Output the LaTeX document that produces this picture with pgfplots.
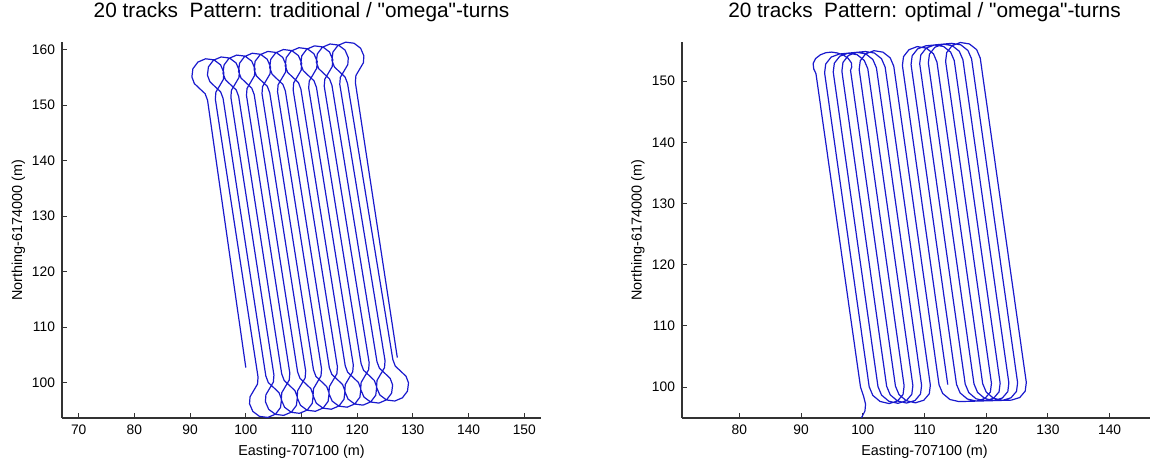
\documentclass[border=0pt]{standalone}
\usepackage{fontspec}
\setmainfont{Liberation Sans}
\newfontfamily\qfont{Liberation Sans}[Ligatures=TeXOff]
\usepackage{pgfplots}
\pgfplotsset{compat=1.18}
\definecolor{trk}{RGB}{25,25,205}
\newcommand{\dq}{{\qfont"}}
\pgfplotsset{
  trackax/.style={
    scale only axis, height=188pt,
    axis x line=bottom, axis y line=left,
    axis line style={-, line width=0.55pt, black!80},
    tick align=inside, major tick length=2.3pt,
    tick style={line width=0.5pt, black!80},
    /pgf/number format/assume math mode=true,
    ticklabel style={font=\fontsize{6.9}{8}\selectfont},
    label style={font=\fontsize{7.2}{8.5}\selectfont},
    title style={font=\fontsize{10.4}{12}\selectfont, at={(axis description cs:0.5,1)}, anchor=base, yshift=6pt},
    xlabel style={at={(axis description cs:0.5,-0.0904)}, anchor=center},
    ylabel style={at={(axis description cs:-0.0908,0.5)}, anchor=center},
  },
  trkline/.style={trk, line width=0.6pt, line join=round, mark=none},
}
\begin{document}
\begin{tikzpicture}
\useasboundingbox (0,0) rectangle (575pt,229.5pt);

% traditional pattern, omega turns at both ends
\begin{axis}[trackax, at={(31pt,20.5pt)}, anchor=south west, width=239.5pt,
  xmin=67, xmax=153, ymin=93.6, ymax=161.4,
  xtick={70,80,...,150}, ytick={100,110,...,160},
  title={20 tracks\ \ Pattern: traditional / \dq omega\dq-turns},
  xlabel={Easting-707100 (m)}, ylabel={Northing-6174000 (m)}]
\addplot[trkline] coordinates {
(100.00,102.70)
(93.13,150.90) (92.69,152.08) (91.72,152.99) (90.76,153.91) (90.32,155.09) (90.50,156.58) (91.40,157.78) (92.78,158.37) (94.28,158.18) (95.47,157.28) (96.06,155.90) (95.97,154.65) (95.30,153.50) (94.63,152.36) (94.53,151.10)
(102.20,100.97) (102.10,99.71) (101.43,98.57) (100.76,97.42) (100.67,96.17) (101.26,94.79) (102.46,93.89) (103.95,93.70) (105.33,94.29) (106.23,95.49) (106.41,96.98) (105.97,98.16) (105.01,99.08) (104.04,99.99) (103.60,101.17)
(95.92,151.23) (95.48,152.41) (94.51,153.32) (93.55,154.24) (93.11,155.42) (93.29,156.91) (94.19,158.11) (95.57,158.70) (97.07,158.51) (98.26,157.61) (98.85,156.23) (98.76,154.98) (98.09,153.83) (97.42,152.69) (97.32,151.43)
(105.05,101.34) (104.95,100.08) (104.28,98.94) (103.61,97.79) (103.52,96.54) (104.11,95.16) (105.31,94.26) (106.80,94.07) (108.18,94.66) (109.08,95.86) (109.26,97.35) (108.82,98.53) (107.86,99.45) (106.89,100.36) (106.45,101.54)
(98.72,151.57) (98.28,152.75) (97.31,153.66) (96.35,154.58) (95.91,155.76) (96.09,157.25) (96.99,158.45) (98.37,159.04) (99.87,158.85) (101.06,157.95) (101.65,156.57) (101.56,155.32) (100.89,154.17) (100.22,153.03) (100.12,151.77)
(107.90,101.71) (107.80,100.45) (107.13,99.31) (106.46,98.16) (106.37,96.91) (106.96,95.53) (108.16,94.63) (109.65,94.44) (111.03,95.03) (111.93,96.23) (112.11,97.72) (111.67,98.90) (110.71,99.82) (109.74,100.73) (109.30,101.91)
(101.51,151.90) (101.07,153.08) (100.10,153.99) (99.14,154.91) (98.70,156.09) (98.88,157.58) (99.78,158.78) (101.16,159.37) (102.66,159.18) (103.85,158.28) (104.44,156.90) (104.35,155.65) (103.68,154.50) (103.01,153.36) (102.91,152.10)
(110.75,102.08) (110.65,100.82) (109.98,99.68) (109.31,98.53) (109.22,97.28) (109.81,95.90) (111.01,95.00) (112.50,94.81) (113.88,95.40) (114.78,96.60) (114.96,98.09) (114.52,99.27) (113.56,100.19) (112.59,101.10) (112.15,102.28)
(104.30,152.23) (103.86,153.41) (102.89,154.32) (101.93,155.24) (101.49,156.42) (101.67,157.91) (102.57,159.11) (103.95,159.70) (105.45,159.51) (106.64,158.61) (107.23,157.23) (107.14,155.98) (106.47,154.83) (105.80,153.69) (105.70,152.43)
(113.60,102.45) (113.50,101.19) (112.83,100.05) (112.16,98.90) (112.07,97.65) (112.66,96.27) (113.86,95.37) (115.35,95.18) (116.73,95.77) (117.63,96.97) (117.81,98.46) (117.37,99.64) (116.41,100.56) (115.44,101.47) (115.00,102.65)
(107.10,152.57) (106.66,153.75) (105.69,154.66) (104.73,155.58) (104.29,156.76) (104.47,158.25) (105.37,159.45) (106.75,160.04) (108.25,159.85) (109.44,158.95) (110.03,157.57) (109.94,156.32) (109.27,155.17) (108.60,154.03) (108.50,152.77)
(116.45,102.82) (116.35,101.56) (115.68,100.42) (115.01,99.27) (114.92,98.02) (115.51,96.64) (116.71,95.74) (118.20,95.55) (119.58,96.14) (120.48,97.34) (120.66,98.83) (120.22,100.01) (119.26,100.93) (118.29,101.84) (117.85,103.02)
(109.89,152.90) (109.45,154.08) (108.48,154.99) (107.52,155.91) (107.08,157.09) (107.26,158.58) (108.16,159.78) (109.54,160.37) (111.04,160.18) (112.23,159.28) (112.82,157.90) (112.73,156.65) (112.06,155.50) (111.39,154.36) (111.29,153.10)
(119.30,103.19) (119.20,101.93) (118.53,100.79) (117.86,99.64) (117.77,98.39) (118.36,97.01) (119.56,96.11) (121.05,95.92) (122.43,96.51) (123.33,97.71) (123.51,99.20) (123.07,100.38) (122.11,101.30) (121.14,102.21) (120.70,103.39)
(112.68,153.23) (112.24,154.41) (111.27,155.32) (110.31,156.24) (109.87,157.42) (110.05,158.91) (110.95,160.11) (112.33,160.70) (113.83,160.51) (115.02,159.61) (115.61,158.23) (115.52,156.98) (114.85,155.83) (114.18,154.69) (114.08,153.43)
(122.15,103.56) (122.05,102.30) (121.38,101.16) (120.71,100.01) (120.62,98.76) (121.21,97.38) (122.41,96.48) (123.90,96.29) (125.28,96.88) (126.18,98.08) (126.36,99.57) (125.92,100.75) (124.96,101.67) (123.99,102.58) (123.55,103.76)
(115.47,153.57) (115.03,154.75) (114.06,155.66) (113.10,156.58) (112.66,157.76) (112.84,159.25) (113.74,160.45) (115.12,161.04) (116.62,160.85) (117.81,159.95) (118.40,158.57) (118.31,157.32) (117.64,156.17) (116.97,155.03) (116.87,153.77)
(125.00,103.93) (124.90,102.67) (124.23,101.53) (123.56,100.38) (123.47,99.13) (124.06,97.75) (125.26,96.85) (126.75,96.66) (128.13,97.25) (129.03,98.45) (129.21,99.94) (128.77,101.12) (127.81,102.04) (126.84,102.95) (126.40,104.13)
(118.27,153.90) (117.83,155.08) (116.86,155.99) (115.90,156.91) (115.46,158.09) (115.64,159.58) (116.54,160.78) (117.92,161.37) (119.42,161.18) (120.61,160.28) (121.20,158.90) (121.11,157.65) (120.44,156.50) (119.77,155.36) (119.67,154.10)
(127.20,104.50)
};
\end{axis}

% optimal pattern
\begin{axis}[trackax, at={(341pt,20.5pt)}, anchor=south west, width=242.5pt,
  xmin=70.7, xmax=149.3, ymin=94.95, ymax=156.4,
  xtick={80,90,...,140}, ytick={100,110,...,150},
  title={20 tracks\ \ Pattern: optimal / \dq omega\dq-turns},
  xlabel={Easting-707100 (m)}, ylabel={Northing-6174000 (m)}]
\addplot[trkline] coordinates {
(99.80,95.00) (100.35,96.10) (100.45,97.20) (100.10,98.60) (99.63,100.00)
(92.41,151.23) (92.05,152.00) (91.95,152.90) (92.35,153.70) (93.12,154.30) (94.00,154.65) (94.95,154.75) (95.90,154.60) (96.80,154.30) (97.60,153.75) (98.15,153.00) (98.20,152.30) (98.01,151.77)
(105.29,100.16) (105.87,98.77) (107.05,97.77) (108.52,97.43) (109.88,97.85) (110.77,98.90) (110.95,100.32)
(103.62,152.30) (103.03,153.67) (101.87,154.60) (100.41,154.84) (99.01,154.71) (97.67,154.20) (96.79,153.07) (96.61,151.63)
(103.87,100.12) (104.45,98.73) (105.63,97.73) (107.10,97.39) (108.46,97.81) (109.35,98.86) (109.53,100.28)
(102.21,152.17) (101.63,153.54) (100.47,154.47) (99.01,154.71) (97.61,154.58) (96.27,154.07) (95.39,152.94) (95.21,151.50)
(102.46,100.08) (103.04,98.69) (104.22,97.69) (105.69,97.35) (107.05,97.77) (107.94,98.82) (108.12,100.24)
(100.81,152.03) (100.23,153.40) (99.07,154.33) (97.61,154.57) (96.21,154.44) (94.87,153.93) (93.99,152.80) (93.81,151.36)
(101.04,100.04) (101.62,98.65) (102.80,97.65) (104.27,97.31) (105.63,97.73) (106.52,98.78) (106.70,100.20)
(99.41,151.90) (99.59,153.34) (100.47,154.47) (101.81,154.98) (103.27,154.74) (104.44,153.81) (105.02,152.44)
(112.36,100.36) (112.94,98.97) (114.12,97.97) (115.59,97.63) (124.07,97.87) (125.43,98.29) (126.32,99.34) (126.50,100.76)
(119.03,153.78) (118.45,155.15) (117.28,156.08) (115.82,156.32) (114.48,155.81) (113.60,154.68) (113.42,153.24)
(120.85,100.60) (120.67,99.18) (119.78,98.13) (118.42,97.71) (116.95,98.05) (115.77,99.05) (115.19,100.44)
(107.82,152.70) (108.00,154.14) (108.88,155.27) (110.22,155.78) (111.62,155.91) (113.08,155.67) (114.24,154.74) (114.82,153.37)
(122.26,100.64) (122.08,99.22) (121.19,98.17) (119.83,97.75) (118.36,98.09) (117.18,99.09) (116.60,100.48)
(109.22,152.84) (109.40,154.28) (110.28,155.41) (111.62,155.92) (113.02,156.05) (114.48,155.81) (115.64,154.88) (116.22,153.51)
(123.67,100.68) (123.50,99.26) (122.61,98.21) (121.25,97.79) (119.78,98.13) (118.60,99.13) (118.02,100.52)
(110.62,152.97) (110.80,154.41) (111.68,155.54) (113.02,156.05) (114.42,156.18) (115.88,155.94) (117.04,155.01) (117.63,153.64)
(125.09,100.72) (124.91,99.30) (124.02,98.25) (122.66,97.83) (121.19,98.17) (120.01,99.17) (119.43,100.56)
(112.02,153.11) (111.45,154.48) (110.28,155.41) (108.82,155.65) (107.48,155.14) (106.60,154.01) (106.42,152.57)
(113.77,100.40)
};
\end{axis}
\end{tikzpicture}
\end{document}
